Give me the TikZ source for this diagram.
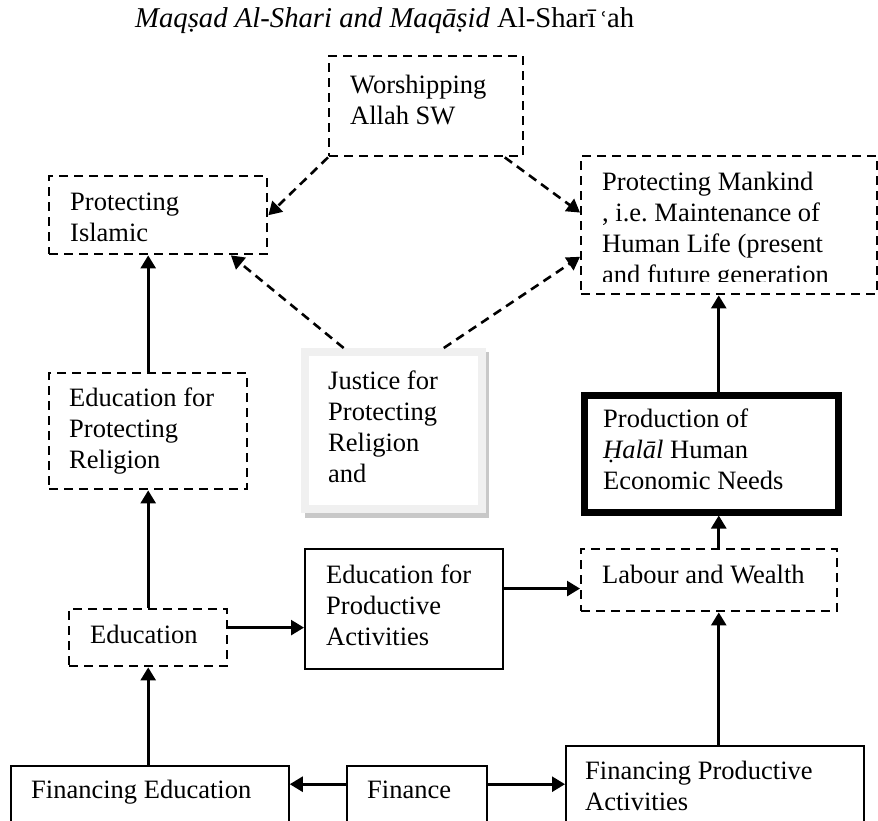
\documentclass[tikz,border=0pt]{standalone}
\usepackage{fontspec}
\setmainfont{Liberation Serif}
\newfontfamily\dvserif{DejaVu Serif}
\usetikzlibrary{arrows.meta,calc}
\definecolor{framegray}{RGB}{240,240,240}
\definecolor{shadowgray}{RGB}{200,200,200}
\newcommand\fl{\rule{0pt}{19pt}}
\begin{document}
\begin{tikzpicture}[x=1pt,y=-1pt,
  every node/.style={font=\fontsize{26.5}{31}\selectfont},
  dbox/.style={draw, line width=2.4pt, dash pattern=on 9pt off 6pt, inner sep=0, anchor=north west},
  sbox/.style={draw, line width=1.8pt, inner sep=0, anchor=north west},
  tbox/.style={draw, line width=7pt, inner sep=0, anchor=north west},
  txt/.style={inner sep=0, anchor=north west, align=left},
  ar/.style={line width=2.6pt, -{Triangle[length=13pt,width=15pt]}},
  dar/.style={ar, dash pattern=on 9pt off 6pt}]
\path[use as bounding box, clip] (0,0) rectangle (878,821);
\fill[white] (0,0) rectangle (878,821);

% title
\node[inner sep=0, anchor=base west, font=\fontsize{28.7}{33}\selectfont] (title) at (135,28)
  {\itshape Maqṣad Al-Shari and Maqāṣid\upshape{} Al-Sharī\,{\dvserif\fontsize{21}{21}\selectfont ʿ}ah};

% boxes
\node[dbox, minimum width=194pt, minimum height=100pt] (wor) at (328,55) {};
\node[txt] (twor) at (350,74) {\fl Worshipping\\Allah SW};

\node[dbox, minimum width=218pt, minimum height=78pt] (pi) at (48,175) {};
\node[txt] (tpi) at (70,191) {\fl Protecting\\Islamic};

\node[dbox, minimum width=296pt, minimum height=138pt] (man) at (580,155) {};
\begin{scope}
\clip (582,157) rectangle (874,281);
\node[txt] (tman) at (602,171) {\fl Protecting Mankind\\, i.e.\ Maintenance of\\Human Life (present\\and future generation};
\end{scope}

\node[dbox, minimum width=198pt, minimum height=116pt] (epr) at (48,372) {};
\node[txt] (tepr) at (69,387) {\fl Education for\\Protecting\\Religion};

\fill[shadowgray] (305,352) rectangle (489,518);
\node[fill=framegray, inner sep=0, anchor=north west, minimum width=185pt, minimum height=165pt] (jus) at (301,348) {};
\fill[white] (309,356) rectangle (478,505);
\node[txt] (tjus) at (328,370) {\fl Justice for\\Protecting\\Religion\\and};

\node[tbox, minimum width=254pt, minimum height=117pt] (prod) at (580.5,391.5) {};
\node[txt] (tprod) at (603,408) {\fl Production of\\\textit{Ḥalāl} Human\\Economic Needs};

\node[dbox, minimum width=256pt, minimum height=62pt] (lab) at (580,548) {};
\node[txt] (tlab) at (602,564) {\fl Labour and Wealth};

\node[sbox, minimum width=198pt, minimum height=120pt] (efp) at (304,548) {};
\node[txt] (tefp) at (326,564) {\fl Education for\\Productive\\Activities};

\node[dbox, minimum width=158pt, minimum height=57pt] (edu) at (68,608) {};
\node[txt] (tedu) at (90,624) {\fl Education};

\node[sbox, minimum width=278pt, minimum height=75pt] (fe) at (10,765) {};
\node[txt] (tfe) at (31,779) {\fl Financing Education};

\node[sbox, minimum width=140pt, minimum height=75pt] (fin) at (346,765) {};
\node[txt] (tfin) at (367,779) {\fl Finance};

\node[sbox, minimum width=298pt, minimum height=95pt] (fp) at (565,745) {};
\node[txt] (tfp) at (585,760) {\fl Financing Productive\\Activities};

% connectors
\draw[dar] (wor.south west) -- (pi.east);
\draw[dar] ($(wor.south west)!0.9!(wor.south east)$) -- ($(man.north west)!0.41!(man.south west)$);
\draw[dar] ($(jus.north west)!0.23!(jus.north east)$) -- ($(pi.south west)!0.83!(pi.south east)$);
\draw[dar] ($(jus.north west)!0.77!(jus.north east)$) -- ($(man.north west)!0.725!(man.south west)$);

\draw[ar] (epr.north) -- (epr.north |- pi.south);
\draw[ar] (edu.north) -- (epr.south);
\draw[ar] (fe.north -| edu.south) -- (edu.south);
\coordinate (eduout) at ($(edu.north east)!0.33!(edu.south east)$);
\draw[ar] (eduout) -- (eduout -| efp.west);
\coordinate (efpout) at ($(efp.north east)!0.333!(efp.south east)$);
\draw[ar] (efpout) -- (efpout -| lab.west);
\coordinate (labx) at ($(lab.north west)!0.537!(lab.north east)$);
\draw[ar] (labx) -- (labx |- prod.south);
\draw[ar] (labx |- prod.north) -- (labx |- man.south);
\draw[ar] (labx |- fp.north) -- (labx |- lab.south);
\coordinate (finl) at ($(fin.north west)!0.25!(fin.south west)$);
\coordinate (finr) at ($(fin.north east)!0.25!(fin.south east)$);
\draw[ar] (finl) -- (finl -| fe.east);
\draw[ar] (finr) -- (finr -| fp.west);
\end{tikzpicture}
\end{document}
